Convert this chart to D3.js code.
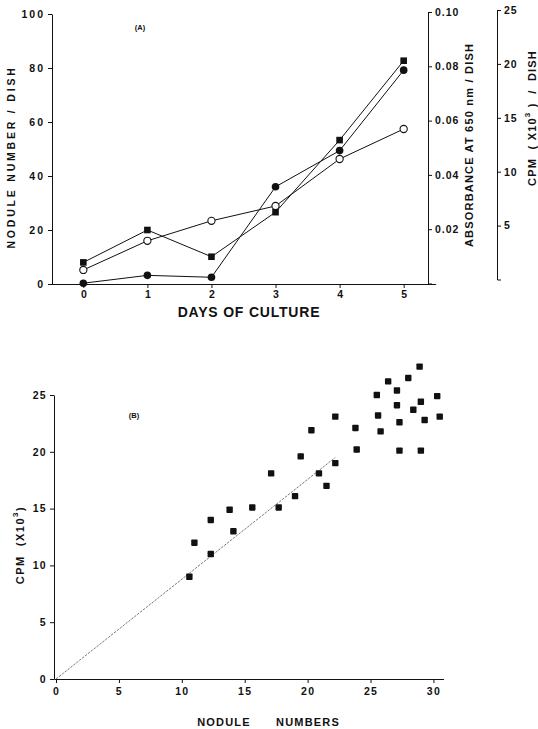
<!DOCTYPE html>
<html>
<head>
<meta charset="utf-8">
<script src="https://cdn.jsdelivr.net/npm/d3@7/dist/d3.min.js"></script>
<style>
  body { margin: 0; background: #fff; }
  svg { display: block; font-family: "Liberation Sans", Arial, sans-serif; font-weight: bold; }
  .axis path, .axis line { stroke: #111; stroke-width: 1; }
  .axis text { fill: #111; font-size: 10.5px; font-weight: bold; font-family: "Liberation Sans", Arial, sans-serif; }
  .lbl { fill: #111; white-space: pre; }
</style>
</head>
<body>
<div id="chart"></div>
<script>
// Panel A: days of culture, values read on the left (nodule number) axis
const days = [0, 1, 2, 3, 4, 5];
const squareSeries = [8, 20, 10.1, 26.6, 53.3, 82.7];
const filledCircleSeries = [0.3, 3.2, 2.5, 36, 49.4, 79.2];
const openCircleSeries = [5.2, 16, 23.4, 28.9, 46.3, 57.4];

const noduleTicks = [0, 20, 40, 60, 80, 100];
const absorbanceTicks = [0.02, 0.04, 0.06, 0.08, 0.10];
const cpmTicksA = [5, 10, 15, 20, 25];

// Panel B: nodule numbers vs CPM (x10^3)
const scatterX = [10.6, 11.0, 12.3, 12.3, 13.8, 14.1, 15.6, 17.1, 17.7, 19.0, 19.45, 20.3, 20.9, 21.5,
                  22.2, 22.2, 23.8, 23.9, 25.5, 25.6, 25.8, 26.4, 27.1, 27.1, 27.3, 27.3, 28.0, 28.4,
                  28.9, 29.0, 29.0, 29.3, 30.3, 30.5];
const scatterY = [9.0, 12.0, 11.0, 14.0, 14.9, 13.0, 15.1, 18.1, 15.1, 16.1, 19.6, 21.9, 18.1, 17.0,
                  23.1, 19.0, 22.1, 20.2, 25.0, 23.2, 21.8, 26.2, 25.4, 24.1, 22.6, 20.1, 26.5, 23.7,
                  27.5, 24.4, 20.1, 22.8, 24.9, 23.1];
const fitLine = [[0, 0], [22.2, 19.5]];
const xTicksB = [0, 5, 10, 15, 20, 25, 30];
const yTicksB = [0, 5, 10, 15, 20, 25];

const W = 538, H = 729;
const svg = d3.select("#chart").append("svg").attr("width", W).attr("height", H);

// ---------- Panel A ----------
const xA = d3.scaleLinear().domain([-0.5, 5.5]).range([51.3, 435.7]);
const yA = d3.scaleLinear().domain([0, 100]).range([284, 14]);
const yAbs = d3.scaleLinear().domain([0, 0.10]).range([283.5, 12]);
const yCpm = d3.scaleLinear().domain([0, 25]).range([279.5, 10]);

svg.append("g").attr("class", "axis")
    .attr("transform", "translate(0,284)")
    .call(d3.axisBottom(xA).tickValues(days).tickSize(4).tickSizeOuter(0).tickPadding(3).tickFormat(d3.format("d")));

svg.append("g").attr("class", "axis")
    .attr("transform", "translate(52,0)")
    .call(d3.axisLeft(yA).tickValues(noduleTicks).tickSize(4).tickSizeOuter(0).tickPadding(3))
    .selectAll("text").attr("letter-spacing", 2);

svg.append("g").attr("class", "axis")
    .attr("transform", "translate(428,0)")
    .call(d3.axisRight(yAbs).tickValues(absorbanceTicks).tickSize(4).tickSizeOuter(4).tickPadding(3).tickFormat(d3.format(".2f")))
    .selectAll("text").attr("letter-spacing", 1);

svg.append("g").attr("class", "axis")
    .attr("transform", "translate(497,0)")
    .call(d3.axisRight(yCpm).tickValues(cpmTicksA).tickSize(4).tickSizeOuter(4).tickPadding(3))
    .selectAll("text").attr("letter-spacing", 1);

const lineA = d3.line().x((d, i) => xA(days[i])).y(d => yA(d));
[squareSeries, filledCircleSeries, openCircleSeries].forEach(s => {
    svg.append("path").datum(s)
        .attr("d", lineA)
        .attr("fill", "none")
        .attr("stroke", "#111")
        .attr("stroke-width", 1);
});

svg.selectAll(".sq").data(squareSeries).enter().append("rect")
    .attr("x", (d, i) => xA(days[i]) - 3.3)
    .attr("y", d => yA(d) - 3.3)
    .attr("width", 6.6).attr("height", 6.6)
    .attr("fill", "#111");

svg.selectAll(".fc").data(filledCircleSeries).enter().append("circle")
    .attr("cx", (d, i) => xA(days[i]))
    .attr("cy", d => yA(d))
    .attr("r", 3.8)
    .attr("fill", "#111");

svg.selectAll(".oc").data(openCircleSeries).enter().append("circle")
    .attr("cx", (d, i) => xA(days[i]))
    .attr("cy", d => yA(d))
    .attr("r", 3.6)
    .attr("fill", "#fff")
    .attr("stroke", "#111")
    .attr("stroke-width", 1.1);

svg.append("text").attr("class", "lbl")
    .attr("x", 140).attr("y", 30).attr("text-anchor", "middle")
    .attr("font-size", 7.5).text("(A)");

svg.append("text").attr("class", "lbl")
    .attr("transform", "translate(11,157) rotate(-90)")
    .attr("text-anchor", "middle").attr("dominant-baseline", "central")
    .attr("font-size", 10.5).attr("letter-spacing", 2.8)
    .text("NODULE NUMBER / DISH");

svg.append("text").attr("class", "lbl")
    .attr("x", 249).attr("y", 316.5).attr("text-anchor", "middle")
    .attr("font-size", 14).attr("letter-spacing", 0.8)
    .text("DAYS OF CULTURE");

svg.append("text").attr("class", "lbl")
    .attr("transform", "translate(469,145) rotate(-90)")
    .attr("text-anchor", "middle").attr("dominant-baseline", "central")
    .attr("font-size", 11).attr("letter-spacing", 1.2)
    .text("ABSORBANCE AT 650 nm / DISH");

const cpmLbl = svg.append("text").attr("class", "lbl")
    .attr("transform", "translate(532,118) rotate(-90)")
    .attr("text-anchor", "middle").attr("dominant-baseline", "central")
    .attr("font-size", 11).attr("letter-spacing", 1.2);
cpmLbl.append("tspan").text("CPM  ( X10");
cpmLbl.append("tspan").attr("baseline-shift", "super").attr("font-size", 8).text("3");
cpmLbl.append("tspan").text(" )  /  DISH");

// ---------- Panel B ----------
const xB = d3.scaleLinear().domain([-0.16, 30.8]).range([54, 443.5]);
const yB = d3.scaleLinear().domain([0, 25]).range([679, 395]);

svg.append("g").attr("class", "axis")
    .attr("transform", "translate(0,679)")
    .call(d3.axisBottom(xB).tickValues(xTicksB).tickSize(4).tickSizeOuter(0).tickPadding(5))
    .selectAll("text").attr("letter-spacing", 1.3);

svg.append("g").attr("class", "axis")
    .attr("transform", "translate(54,0)")
    .call(d3.axisLeft(yB).tickValues(yTicksB).tickSize(4).tickSizeOuter(0).tickPadding(3))
    .selectAll("text").attr("letter-spacing", 1.3);

svg.append("path").datum(fitLine)
    .attr("d", d3.line().x(d => xB(d[0])).y(d => yB(d[1])))
    .attr("fill", "none")
    .attr("stroke", "#555")
    .attr("stroke-width", 0.8)
    .attr("stroke-dasharray", "2.5,1.2");

svg.selectAll(".pt").data(scatterX).enter().append("rect")
    .attr("x", (d, i) => xB(d) - 3.2)
    .attr("y", (d, i) => yB(scatterY[i]) - 3.2)
    .attr("width", 6.4).attr("height", 6.4)
    .attr("rx", 0.8)
    .attr("fill", "#111");

svg.append("text").attr("class", "lbl")
    .attr("x", 134).attr("y", 418).attr("text-anchor", "middle")
    .attr("font-size", 7.5).text("(B)");

const cpmB = svg.append("text").attr("class", "lbl")
    .attr("transform", "translate(20,545) rotate(-90)")
    .attr("text-anchor", "middle").attr("dominant-baseline", "central")
    .attr("font-size", 11).attr("letter-spacing", 1.5);
cpmB.append("tspan").text("CPM  (X10");
cpmB.append("tspan").attr("baseline-shift", "super").attr("font-size", 8).text("3");
cpmB.append("tspan").text(")");

svg.append("text").attr("class", "lbl")
    .attr("x", 224).attr("y", 726).attr("text-anchor", "middle")
    .attr("font-size", 11).attr("letter-spacing", 1.2).text("NODULE");
svg.append("text").attr("class", "lbl")
    .attr("x", 308).attr("y", 726).attr("text-anchor", "middle")
    .attr("font-size", 11).attr("letter-spacing", 1.2).text("NUMBERS");
</script>
</body>
</html>
